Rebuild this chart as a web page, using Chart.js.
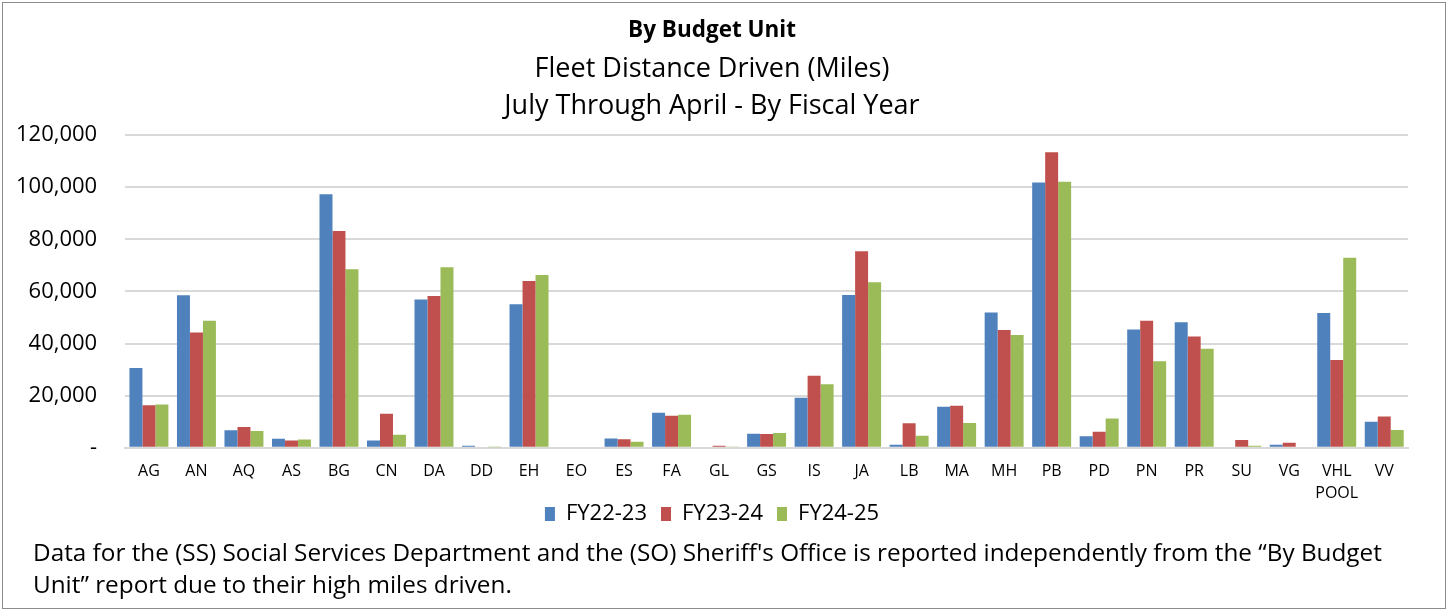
<!DOCTYPE html>
<html>
<head>
<meta charset="utf-8">
<script src="https://cdn.jsdelivr.net/npm/chart.js@4.4.1/dist/chart.umd.min.js"></script>
<style>
    html, body { margin: 0; padding: 0; background: #fff; }
    #frame {
        position: absolute;
        left: 2px;
        top: 2px;
        width: 1444px;
        height: 607px;
        box-sizing: border-box;
        border: 1px solid #8c8c8c;
        background: #fff;
        font-family: "Open Sans", sans-serif;
    }
    #chartBox { position: absolute; left: 0; top: 0; width: 1442px; height: 560px; }
    #note {
        position: absolute;
        left: 30px;
        top: 533px;
        width: 1380px;
        font-size: 24.3px;
        line-height: 32px;
        color: #000;
    }
</style>
</head>
<body>
<div id="frame">
    <div id="chartBox"><canvas id="fleetChart"></canvas></div>
    <div id="note">Data for the (SS) Social Services Department and the (SO) Sheriff's Office is reported independently from the “By Budget Unit” report due to their high miles driven.</div>
</div>
<script>
// Unidades de presupuesto
const units = ['AG', 'AN', 'AQ', 'AS', 'BG', 'CN', 'DA', 'DD', 'EH', 'EO', 'ES', 'FA', 'GL', 'GS',
    'IS', 'JA', 'LB', 'MA', 'MH', 'PB', 'PD', 'PN', 'PR', 'SU', 'VG', ['VHL', 'POOL'], 'VV'];

// Millas por año fiscal
const fy2223 = [30600, 58500, 6700, 3500, 97300, 2800, 56900, 800, 55100, 0, 3600, 13400, 0, 5400,
    19200, 58600, 1200, 15700, 51900, 101800, 4400, 45400, 48200, 0, 1200, 51700, 10000];
const fy2324 = [16300, 44200, 8000, 2800, 83200, 13100, 58200, 400, 64000, 0, 3300, 12300, 800, 5300,
    27600, 75400, 9400, 16100, 45200, 113400, 6200, 48700, 42700, 3000, 1900, 33700, 12000];
const fy2425 = [16600, 48700, 6400, 3200, 68500, 5000, 69300, 200, 66300, 0, 2300, 12700, 500, 5700,
    24400, 63500, 4600, 9500, 43300, 102100, 11200, 33200, 38000, 800, 400, 72900, 6800];

const yTicks = [0, 20000, 40000, 60000, 80000, 100000, 120000];

const FONT = '"Open Sans", sans-serif';
const LEGEND_LIFT = 28; // subir la leyenda hacia las etiquetas del eje

function formatTick(v) {
    if (v === 0) return '-';
    return v.toLocaleString('en-US');
}

// Plugin para subir la leyenda (como en Excel, queda pegada al eje)
const liftLegend = {
    id: 'liftLegend',
    afterLayout(chart) {
        const lg = chart.legend;
        if (!lg) return;
        lg.top -= LEGEND_LIFT;
        lg.bottom -= LEGEND_LIFT;
        if (lg.legendHitBoxes) lg.legendHitBoxes.forEach(b => { b.top -= LEGEND_LIFT; });
    }
};

const ctx = document.getElementById('fleetChart').getContext('2d');
new Chart(ctx, {
    type: 'bar',
    data: {
        labels: units,
        datasets: [
            { label: 'FY22-23', data: fy2223, backgroundColor: '#4F81BD' },
            { label: 'FY23-24', data: fy2324, backgroundColor: '#C0504D' },
            { label: 'FY24-25', data: fy2425, backgroundColor: '#9BBB59' }
        ]
    },
    plugins: [liftLegend],
    options: {
        responsive: true,
        maintainAspectRatio: false,
        animation: false,
        datasets: {
            bar: { categoryPercentage: 0.82, barPercentage: 1.0, borderWidth: 0 }
        },
        layout: { padding: { left: 13, right: 37, top: 0, bottom: 0 } },
        plugins: {
            title: {
                display: true,
                text: 'By Budget Unit',
                color: '#000',
                font: { family: FONT, size: 22.5, weight: 'bold', lineHeight: 1.2 },
                padding: { top: 14, bottom: 7 }
            },
            subtitle: {
                display: true,
                text: ['Fleet Distance Driven (Miles)', 'July Through April - By Fiscal Year'],
                color: '#000',
                font: { family: FONT, size: 27, lineHeight: 1.37 },
                padding: { top: 0, bottom: 10 }
            },
            legend: {
                position: 'bottom',
                labels: {
                    color: '#000',
                    font: { family: FONT, size: 22 },
                    boxWidth: 10,
                    boxHeight: 14,
                    padding: 14
                }
            },
            tooltip: { enabled: false }
        },
        scales: {
            x: {
                grid: { display: false, drawTicks: false },
                border: { color: '#d9d9d9', width: 2 },
                ticks: {
                    color: '#000',
                    font: { family: FONT, size: 16, lineHeight: 1.35 },
                    padding: 13,
                    maxRotation: 0,
                    autoSkip: false
                }
            },
            y: {
                min: 0,
                max: 120000,
                afterBuildTicks: axis => { axis.ticks = yTicks.map(v => ({ value: v })); },
                afterFit: scale => { scale.width -= 28; },
                grid: { color: '#d9d9d9', lineWidth: 2, drawTicks: false },
                border: { display: false },
                ticks: {
                    color: '#000',
                    font: { family: FONT, size: 22 },
                    padding: 28,
                    callback: v => formatTick(v)
                }
            }
        }
    }
});
</script>
</body>
</html>
